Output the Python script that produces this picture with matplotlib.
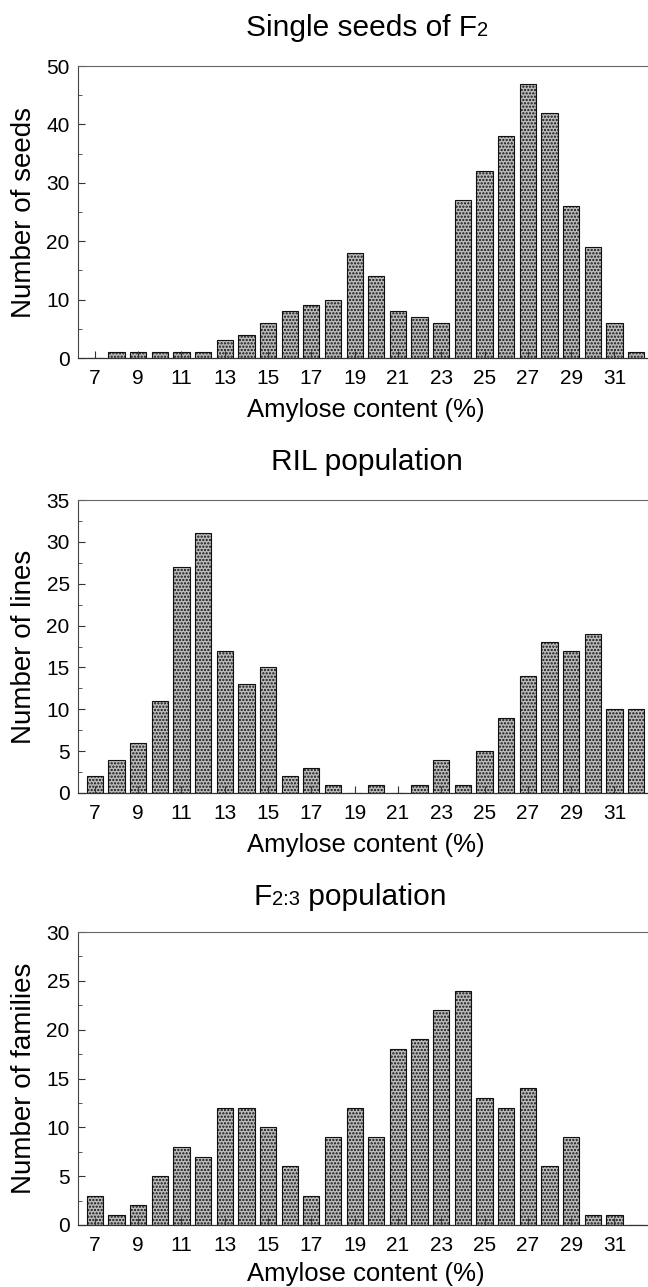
import matplotlib
matplotlib.use("Agg")
import matplotlib.pyplot as plt
from matplotlib.offsetbox import TextArea, HPacker, AnnotationBbox
import numpy as np

plt.rcParams['font.family'] = ['Liberation Sans', 'DejaVu Sans']
plt.rcParams['hatch.linewidth'] = 1.1

# ---- data ----
amylose = list(range(7, 33))
f2_seeds = [0, 1, 1, 1, 1, 1, 3, 4, 6, 8, 9, 10, 18, 14, 8, 7, 6, 27, 32, 38, 47, 42, 26, 19, 6, 1]
ril_lines = [2, 4, 6, 11, 27, 31, 17, 13, 15, 2, 3, 1, 0, 1, 0, 1, 4, 1, 5, 9, 14, 18, 17, 19, 10, 10]
f23_families = [3, 1, 2, 5, 8, 7, 12, 12, 10, 6, 3, 9, 12, 9, 18, 19, 22, 24, 13, 12, 14, 6, 9, 1, 1, 0]
xtick_vals = list(range(7, 32, 2))

# title pieces: (main text, small subscript text, trailing text)
titles = [('Single seeds of F', '2', ''), ('RIL population', '', ''),
          ('F', '2:3', ' population')]
ylabels = ['Number of seeds', 'Number of lines', 'Number of families']
xlabel = 'Amylose content (%)'
series = [f2_seeds, ril_lines, f23_families]
ymax = [50, 35, 30]
ymajor = [10, 5, 5]
yminor = [5, 2.5, 2.5]

W, H = 648, 1287
fig = plt.figure(figsize=(W / 100, H / 100), dpi=100)

axes_px = [(66, 358), (500, 793), (932, 1225)]
title_base = [36, 470, 905]
title_cx = [367, 367, 350]
xlabel_base = [417, 852, 1281]
left_px, right_px = 78, 648

for i in range(3):
    top, bot = axes_px[i]
    ax = fig.add_axes([left_px / W, 1 - bot / H, (right_px - left_px) / W, (bot - top) / H])
    ax.bar(amylose, series[i], width=0.75, facecolor='#bdbdbd', edgecolor='#111111',
           linewidth=0.8, hatch='.....')
    ax.set_xlim(6.22, 32.55)
    ax.set_ylim(0, ymax[i])
    ax.set_xticks(xtick_vals)
    ax.set_yticks(np.arange(0, ymax[i] + 0.1, ymajor[i]))
    ax.set_yticks(np.arange(0, ymax[i] + 0.1, yminor[i]), minor=True)
    ax.tick_params(axis='both', which='major', direction='in', length=5, width=0.8,
                   labelsize=15, color='#333333')
    ax.tick_params(axis='x', which='major', pad=8)
    ax.tick_params(axis='y', which='major', pad=6)
    ax.tick_params(axis='y', which='minor', direction='in', length=3, width=0.7, color='#555555')
    ax.tick_params(axis='x', which='minor', bottom=False)
    ax.spines['right'].set_visible(False)
    ax.spines['top'].set_color('#666666')
    ax.spines['top'].set_linewidth(0.8)
    ax.spines['left'].set_color('#444444')
    ax.spines['left'].set_linewidth(0.8)
    ax.spines['bottom'].set_color('#333333')
    ax.spines['bottom'].set_linewidth(0.9)
    ax.set_ylabel(ylabels[i], fontsize=20)
    ax.yaxis.set_label_coords(-0.072, 0.5)

    main, sub, tail = titles[i]
    parts = [TextArea(main, textprops=dict(fontsize=21.5))]
    if sub:
        parts.append(TextArea(sub, textprops=dict(fontsize=14.5)))
    if tail:
        parts.append(TextArea(tail, textprops=dict(fontsize=21.5)))
    box = HPacker(children=parts, align='baseline', pad=0, sep=0)
    ab = AnnotationBbox(box, (title_cx[i] / W, 1 - (title_base[i] + 6) / H),
                        xycoords='figure fraction', box_alignment=(0.5, 0),
                        frameon=False, pad=0)
    fig.add_artist(ab)
    fig.text(366 / W, 1 - xlabel_base[i] / H, xlabel, fontsize=18.5,
             ha='center', va='baseline')

fig.savefig('out.png', dpi=100)
